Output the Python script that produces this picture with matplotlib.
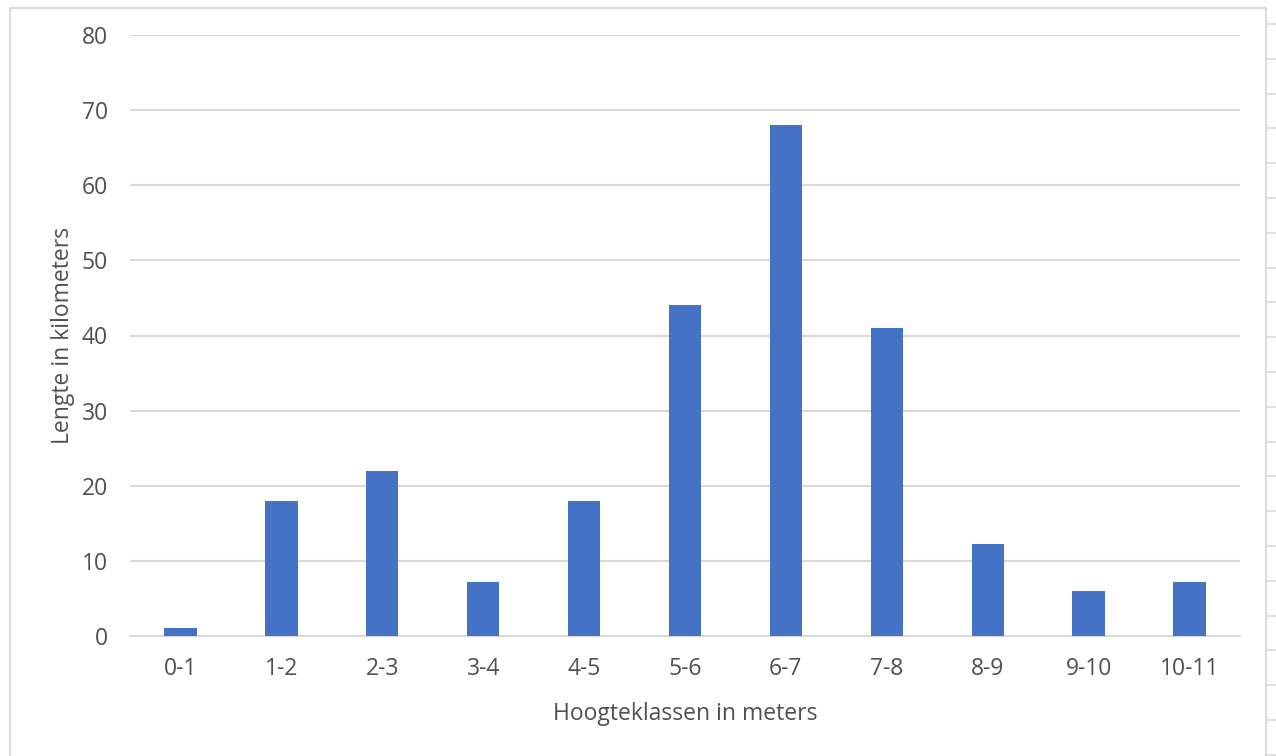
import matplotlib
matplotlib.use("Agg")
import matplotlib.pyplot as plt
from matplotlib.lines import Line2D

# data
categories = ["0-1", "1-2", "2-3", "3-4", "4-5", "5-6", "6-7", "7-8",
              "8-9", "9-10", "10-11"]
lengths_km = [1, 18, 22, 7.2, 18, 44, 68, 41, 12.2, 6, 7.2]
y_ticks = [0, 10, 20, 30, 40, 50, 60, 70, 80]

BLUE = "#4472C4"
GRID = "#d9d9d9"
TEXT = "#505050"

plt.rcParams["font.family"] = ["Open Sans", "DejaVu Sans"]

W, H = 1276, 756
fig = plt.figure(figsize=(W / 100, H / 100), dpi=100)
ax = fig.add_axes([130 / W, 1 - 636 / H, 1110 / W, 601 / H])

x = range(len(categories))
ax.bar(x, lengths_km, width=0.32, color=BLUE, zorder=3)

ax.set_xlim(-0.5, len(categories) - 0.5)
ax.set_ylim(0, 80)
ax.set_yticks(y_ticks)
ax.set_xticks(list(x))
ax.set_xticklabels(categories)
ax.yaxis.grid(True, color=GRID, lw=1.5, zorder=0)
ax.tick_params(length=0, labelsize=16.5, colors=TEXT)
ax.tick_params(axis="x", pad=15)
ax.tick_params(axis="y", pad=16)
for side in ("top", "right", "left"):
    ax.spines[side].set_visible(False)
ax.spines["bottom"].set_color(GRID)
ax.spines["bottom"].set_linewidth(1.5)

ax.set_xlabel("Hoogteklassen in meters", fontsize=16.5, color=TEXT, labelpad=15)
ax.set_ylabel("Lengte in kilometers", fontsize=16.5, color=TEXT, labelpad=5)

# frame of the embedded chart and the spreadsheet row lines on the right
def px(xp, yp):
    return xp / W, 1 - yp / H

for (x0, y0), (x1, y1) in [((10, 8), (10, 756)), ((10, 8), (1266, 8)),
                           ((1266, 8), (1266, 756))]:
    a, b = px(x0, y0)
    c, d = px(x1, y1)
    fig.add_artist(Line2D([a, c], [b, d], color="#dcdcdc", lw=1.5))
yp = 24
while yp < H:
    a, b = px(1266, yp)
    c, d = px(1276, yp)
    fig.add_artist(Line2D([a, c], [b, d], color="#dcdcdc", lw=1.2))
    yp += 34.8

fig.savefig("out.png", dpi=100)
